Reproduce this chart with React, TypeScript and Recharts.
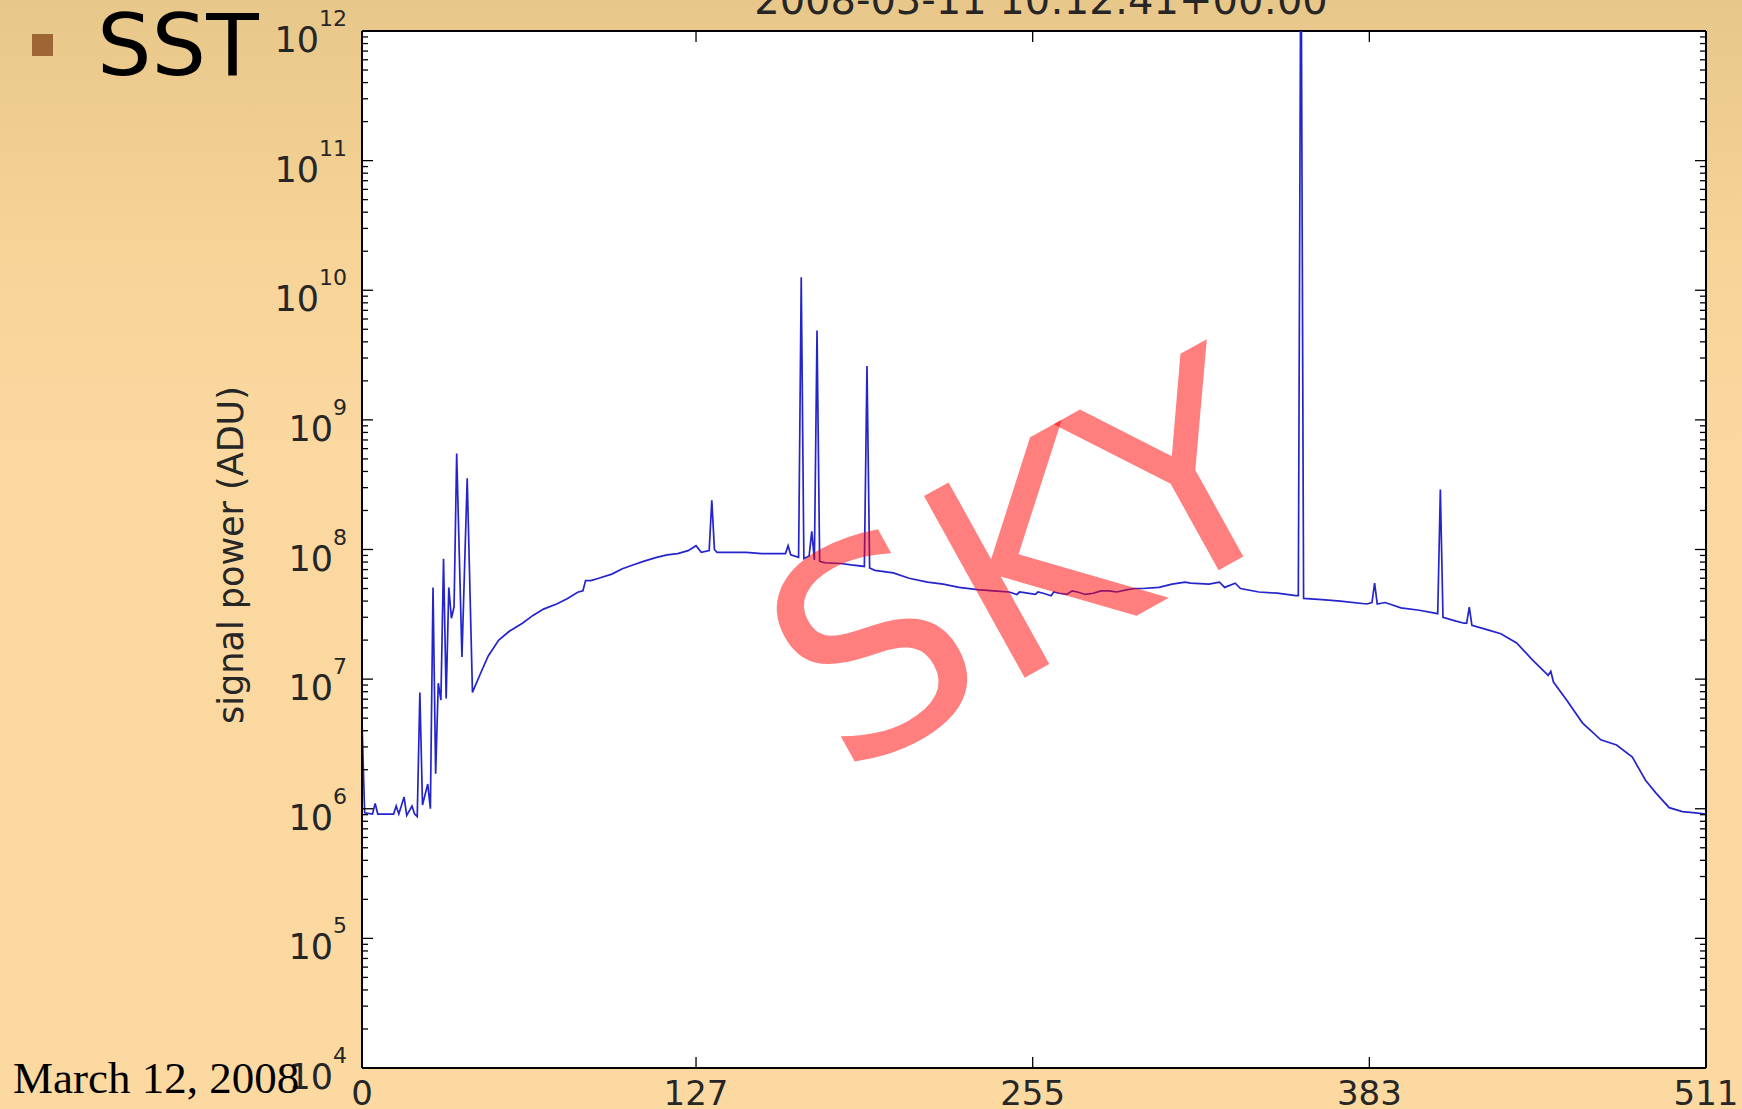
import React from "react";
import {
  LineChart,
  Line,
  XAxis,
  YAxis,
  CartesianGrid,
  ReferenceLine,
} from "recharts";

// spectrum: channel number and signal power (ADU)
const channels = [
  0, 1, 4, 5, 6, 12, 13, 14, 16, 17, 19, 20, 21, 22, 23, 25, 26, 27, 28, 29,
  30, 31, 32, 33, 34, 35, 36, 38, 40, 42, 45, 48, 52, 56, 61, 65, 69, 74, 78,
  82, 84, 85, 87, 90, 95, 99, 103, 107, 112, 116, 120, 124, 127, 129, 132, 133,
  134, 135, 140, 146, 152, 157, 161, 162, 163, 166, 167, 168, 170, 171, 172,
  173, 174, 176, 182, 186, 191, 192, 193, 195, 202, 208, 215, 221, 227, 234,
  240, 246, 249, 250, 253, 256, 257, 259, 262, 263, 265, 268, 270, 272, 275,
  278, 281, 284, 287, 291, 294, 297, 303, 308, 313, 315, 322, 326, 328, 332,
  334, 341, 348, 355, 356, 357, 358, 365, 372, 382, 384, 385, 386, 389, 395,
  402, 409, 410, 411, 416, 419, 420, 421, 422, 428, 433, 439, 445, 451, 452,
  453, 458, 464, 471, 477, 483, 488, 492, 497, 502, 507, 511,
];

const power = [
  4.7e6, 9.3e5, 9.1e5, 1.1e6, 9.1e5, 9.1e5, 1.05e6, 9.1e5, 1.23e6, 8.9e5,
  1.05e6, 9.1e5, 8.7e5, 7.9e6, 1.07e6, 1.55e6, 1.0e6, 5.1e7, 1.86e6, 9.3e6,
  6.9e6, 8.5e7, 7.1e6, 5.1e7, 2.95e7, 3.6e7, 5.5e8, 1.48e7, 3.55e8, 7.9e6,
  1.1e7, 1.51e7, 2.0e7, 2.34e7, 2.7e7, 3.1e7, 3.47e7, 3.8e7, 4.17e7, 4.68e7,
  4.8e7, 5.75e7, 5.75e7, 6.0e7, 6.46e7, 7.1e7, 7.6e7, 8.1e7, 8.7e7, 9.1e7,
  9.3e7, 9.8e7, 1.07e8, 9.5e7, 9.8e7, 2.4e8, 1.0e8, 9.5e7, 9.5e7, 9.5e7,
  9.3e7, 9.3e7, 9.3e7, 1.07e8, 9.1e7, 8.7e7, 1.26e10, 8.5e7, 8.9e7, 1.38e8,
  8.3e7, 4.9e9, 8.1e7, 7.9e7, 7.8e7, 7.6e7, 7.4e7, 2.6e9, 7.2e7, 6.9e7,
  6.6e7, 6.0e7, 5.6e7, 5.4e7, 5.1e7, 4.9e7, 4.8e7, 4.7e7, 4.5e7, 4.7e7,
  4.6e7, 4.5e7, 4.7e7, 4.6e7, 4.4e7, 4.7e7, 4.6e7, 4.5e7, 4.8e7, 4.7e7,
  4.5e7, 4.6e7, 4.8e7, 4.8e7, 4.7e7, 4.9e7, 5.0e7, 5.0e7, 5.1e7, 5.4e7,
  5.6e7, 5.5e7, 5.4e7, 5.6e7, 5.1e7, 5.5e7, 5.0e7, 4.7e7, 4.6e7, 4.4e7,
  4.4e7, 1e13, 4.2e7, 4.1e7, 4.0e7, 3.8e7, 3.9e7, 5.5e7, 3.8e7, 3.9e7,
  3.55e7, 3.4e7, 3.2e7, 2.9e8, 3.0e7, 2.8e7, 2.7e7, 2.7e7, 3.6e7, 2.6e7,
  2.4e7, 2.24e7, 1.9e7, 1.41e7, 1.07e7, 1.15e7, 9.5e6, 6.9e6, 4.6e6, 3.4e6,
  3.1e6, 2.5e6, 1.66e6, 1.32e6, 1.02e6, 9.5e5, 9.3e5, 9.1e5,
];

const xTicks = [0, 127, 255, 383, 511];
const decades = [4, 5, 6, 7, 8, 9, 10, 11, 12];
const minorSteps = [1, 2, 3, 4, 5, 6, 7, 8, 9];

const titleText = "2008-03-11 10:12:41+00:00";
const yLabel = "signal power (ADU)";
const slideTitle = "SST";
const slideDate = "March 12, 2008";
const watermark = "SKY";

const W = 1742;
const H = 1109;
const PLOT = { left: 362, top: 31, right: 1706, bottom: 1068 };
const FONT = "DejaVu Sans";
const INK = "#262626";

const rows = channels.map((ch, i) => ({ ch, power: power[i] }));

const yTicks: number[] = [];
decades.forEach((d) => {
  if (d === 12) yTicks.push(1e12);
  else minorSteps.forEach((m) => yTicks.push(m * Math.pow(10, d)));
});

const XTick = (props: any) => {
  const { x, payload } = props;
  return (
    <g>
      <line x1={x} x2={x} y1={PLOT.bottom} y2={PLOT.bottom - 11} stroke="#000" strokeWidth={1.3} />
      <line x1={x} x2={x} y1={PLOT.top} y2={PLOT.top + 11} stroke="#000" strokeWidth={1.3} />
      <text x={x} y={1105} textAnchor="middle" fontSize={34} fill={INK} fontFamily={FONT}>
        {payload.value}
      </text>
    </g>
  );
};

const YTick = (props: any) => {
  const { y, payload } = props;
  const lg = Math.log10(payload.value);
  const major = Math.abs(lg - Math.round(lg)) < 1e-6;
  const len = major ? 11 : 6;
  return (
    <g>
      <line x1={PLOT.left} x2={PLOT.left + len} y1={y} y2={y} stroke="#000" strokeWidth={1.3} />
      <line x1={PLOT.right} x2={PLOT.right - len} y1={y} y2={y} stroke="#000" strokeWidth={1.3} />
      {major && (
        <text x={347} y={y + 21} textAnchor="end" fontSize={35} fill={INK} fontFamily={FONT}>
          10
          <tspan dy={-26} fontSize={22}>
            {Math.round(lg)}
          </tspan>
        </text>
      )}
    </g>
  );
};

const App: React.FC = () => {
  return (
    <div
      style={{
        position: "absolute",
        left: 0,
        top: 0,
        width: W,
        height: H,
        overflow: "hidden",
        background:
          "linear-gradient(180deg, #E8C78A 0%, #F6D397 22%, #FBD8A0 40%, #FCD9A1 100%)",
      }}
    >
      <LineChart
        width={W}
        height={H}
        data={rows}
        margin={{ top: PLOT.top, right: W - PLOT.right, bottom: 0, left: 0 }}
        style={{ position: "absolute", left: 0, top: 0 }}
      >
        <CartesianGrid fill="#ffffff" stroke="none" horizontal={false} vertical={false} />
        <XAxis
          dataKey="ch"
          type="number"
          domain={[0, 511]}
          ticks={xTicks}
          interval={0}
          height={H - PLOT.bottom}
          tickSize={0}
          tickMargin={0}
          tickLine={false}
          tick={<XTick />}
          axisLine={{ stroke: "#000", strokeWidth: 2 }}
        />
        <YAxis
          type="number"
          scale="log"
          domain={[1e4, 1e12]}
          allowDataOverflow
          ticks={yTicks}
          interval={0}
          width={PLOT.left}
          tickSize={0}
          tickMargin={0}
          tickLine={false}
          tick={<YTick />}
          axisLine={{ stroke: "#000", strokeWidth: 2 }}
        />
        <ReferenceLine y={1e12} stroke="#000" strokeWidth={2} />
        <ReferenceLine x={511} stroke="#000" strokeWidth={2} />
        <Line
          type="linear"
          dataKey="power"
          stroke="#2424cc"
          strokeWidth={1.7}
          dot={false}
          isAnimationActive={false}
        />
      </LineChart>
      <svg
        width={W}
        height={H}
        style={{ position: "absolute", left: 0, top: 0, pointerEvents: "none" }}
      >
        <text x={1041} y={14} textAnchor="middle" fontSize={40} fill={INK} fontFamily={FONT}>
          {titleText}
        </text>
        <text
          x={243}
          y={555}
          textAnchor="middle"
          fontSize={35}
          fill={INK}
          fontFamily={FONT}
          transform="rotate(-90 243 555)"
        >
          {yLabel}
        </text>
        <rect x={32} y={34} width={21} height={22} fill="#9E6635" />
        <text x={97} y={75} fontSize={86} fill="#000" fontFamily={FONT}>
          {slideTitle}
        </text>
        <text x={13} y={1093} fontSize={45} fill="#000" fontFamily="Liberation Serif">
          {slideDate}
        </text>
        <text
          x={0}
          y={0}
          fontSize={285}
          fill="#ff0000"
          fillOpacity={0.5}
          fontFamily={FONT}
          transform="translate(842 779) rotate(-29)"
        >
          {watermark}
        </text>
      </svg>
    </div>
  );
};

export default App;
